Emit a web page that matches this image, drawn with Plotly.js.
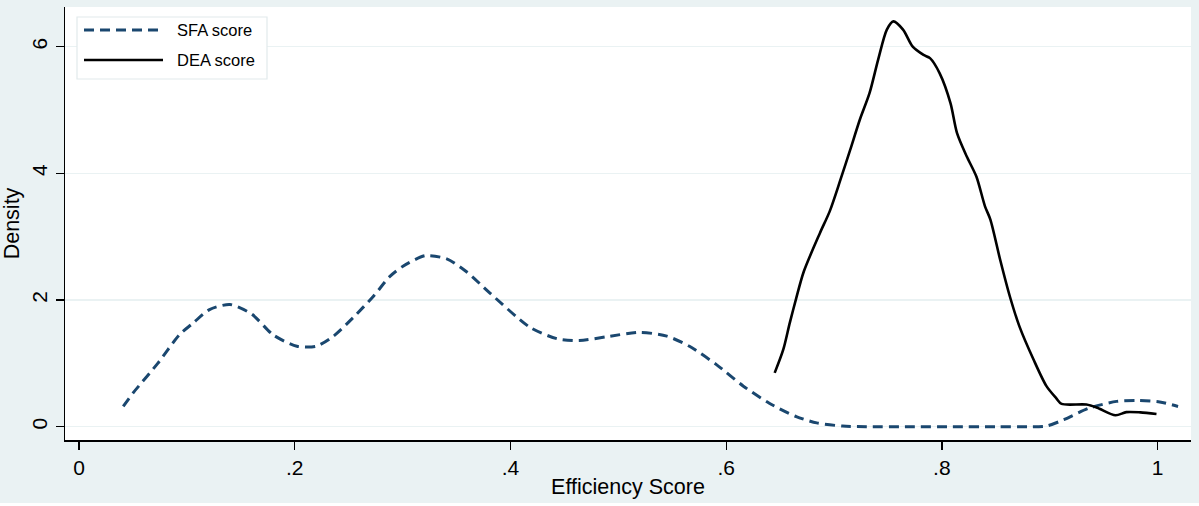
<!DOCTYPE html>
<html>
<head>
<meta charset="utf-8">
<script src="https://cdn.plot.ly/plotly-3.0.1.min.js"></script>
<style>
  html, body { margin: 0; padding: 0; background: #ffffff; }
  #chart { width: 1199px; height: 503px; }
</style>
</head>
<body>
<div id="chart"></div>
<script>
// kernel density estimates
const sfaX = [0.041, 0.050, 0.073, 0.093, 0.106, 0.121, 0.140, 0.160, 0.180, 0.202,
              0.220, 0.236, 0.254, 0.273, 0.288, 0.300, 0.321, 0.341, 0.359, 0.381,
              0.418, 0.443, 0.464, 0.489, 0.520, 0.545, 0.566, 0.591, 0.616, 0.640,
              0.665, 0.684, 0.708, 0.730, 0.770, 0.810, 0.850, 0.880, 0.897, 0.913,
              0.936, 0.962, 0.981, 1.002, 1.019];
const sfaY = [0.32, 0.53, 1.00, 1.45, 1.64, 1.85, 1.93, 1.78, 1.45, 1.27,
              1.27, 1.43, 1.72, 2.06, 2.37, 2.53, 2.70, 2.65, 2.45, 2.11,
              1.57, 1.39, 1.36, 1.42, 1.49, 1.43, 1.27, 0.98, 0.64, 0.37,
              0.16, 0.06, 0.01, 0.00, 0.00, 0.00, 0.00, 0.00, 0.01, 0.11,
              0.29, 0.40, 0.415, 0.39, 0.32];

const deaX = [0.645, 0.653, 0.659, 0.665, 0.672, 0.687, 0.696, 0.706, 0.715, 0.724,
              0.733, 0.741, 0.749, 0.755, 0.764, 0.773, 0.783, 0.789, 0.798, 0.808,
              0.814, 0.823, 0.832, 0.840, 0.845, 0.854, 0.863, 0.872, 0.885, 0.897,
              0.906, 0.911, 0.934, 0.944, 0.961, 0.971, 0.984, 0.999];
const deaY = [0.85, 1.22, 1.64, 2.03, 2.45, 3.06, 3.40, 3.90, 4.37, 4.85,
              5.27, 5.80, 6.27, 6.40, 6.27, 6.00, 5.87, 5.82, 5.58, 5.11,
              4.64, 4.27, 3.95, 3.48, 3.27, 2.64, 2.06, 1.58, 1.06, 0.64,
              0.45, 0.36, 0.35, 0.30, 0.18, 0.23, 0.226, 0.20];

const seriesNames = ['SFA score', 'DEA score'];
const xTickVals = [0, 0.2, 0.4, 0.6, 0.8, 1];
const xTickText = ['0', '.2', '.4', '.6', '.8', '1'];
const yTickVals = [0, 2, 4, 6];

const NAVY = '#1a476f';
const BG = '#eaf2f3';
const FONT = 'Liberation Sans, Arial, sans-serif';

// ── plot-area geometry (pixels) for the hand-drawn legend ───────────────
const W = 1199, H = 503;
const M = { l: 65, r: 8, t: 7, b: 63 };
const px = x => (x - M.l) / (W - M.l - M.r);
const py = y => (H - M.b - y) / (H - M.t - M.b);

const traces = [
  { type: 'scatter', mode: 'lines', x: sfaX, y: sfaY, name: seriesNames[0],
    line: { color: NAVY, width: 3, dash: '10px,6px', shape: 'spline', smoothing: 0.7 },
    hoverinfo: 'none', showlegend: false },
  { type: 'scatter', mode: 'lines', x: deaX, y: deaY, name: seriesNames[1],
    line: { color: '#000000', width: 2.6, shape: 'spline', smoothing: 0.8 },
    hoverinfo: 'none', showlegend: false }
];

// legend box + sample lines drawn as shapes so the key line can be long
const shapes = [
  { type: 'rect', xref: 'paper', yref: 'paper', x0: px(77), x1: px(267), y0: py(79), y1: py(17),
    fillcolor: '#ffffff', line: { color: '#e1eaec', width: 1.2 }, layer: 'above' },
  { type: 'line', xref: 'paper', yref: 'paper', x0: px(84), x1: px(163), y0: py(30), y1: py(30),
    line: { color: NAVY, width: 3, dash: '10px,6px' }, layer: 'above' },
  { type: 'line', xref: 'paper', yref: 'paper', x0: px(84), x1: px(163), y0: py(60), y1: py(60),
    line: { color: '#000000', width: 2.6 }, layer: 'above' }
];

const annotations = seriesNames.map((name, i) => ({
  xref: 'paper', yref: 'paper', x: px(175), y: py(30 + i * 30),
  xanchor: 'left', yanchor: 'middle', showarrow: false,
  text: name, font: { family: FONT, size: 16.5, color: '#000000' }
}));

const layout = {
  width: W, height: H,
  margin: M,
  paper_bgcolor: BG, plot_bgcolor: '#ffffff',
  font: { family: FONT, color: '#000000' },
  showlegend: false,
  xaxis: {
    range: [-0.013, 1.031],
    tickvals: xTickVals, ticktext: xTickText,
    ticks: 'outside', ticklen: 8, tickwidth: 1.3, tickcolor: '#000000',
    tickfont: { size: 21 },
    showline: true, linecolor: '#000000', linewidth: 1.5,
    showgrid: false, zeroline: false,
    title: { text: 'Efficiency Score', font: { size: 21.5 }, standoff: 1 }
  },
  yaxis: {
    range: [-0.21, 6.627],
    tickvals: yTickVals,
    tickangle: -90,
    ticks: 'outside', ticklen: 8, tickwidth: 1.3, tickcolor: '#000000',
    tickfont: { size: 21 },
    showline: true, linecolor: '#000000', linewidth: 1.5,
    showgrid: true, gridcolor: BG, gridwidth: 1.5, zeroline: false,
    title: { text: 'Density', font: { size: 21.5 }, standoff: 4 }
  },
  shapes: shapes,
  annotations: annotations
};

Plotly.newPlot('chart', traces, layout, { displayModeBar: false, staticPlot: true });
</script>
</body>
</html>
